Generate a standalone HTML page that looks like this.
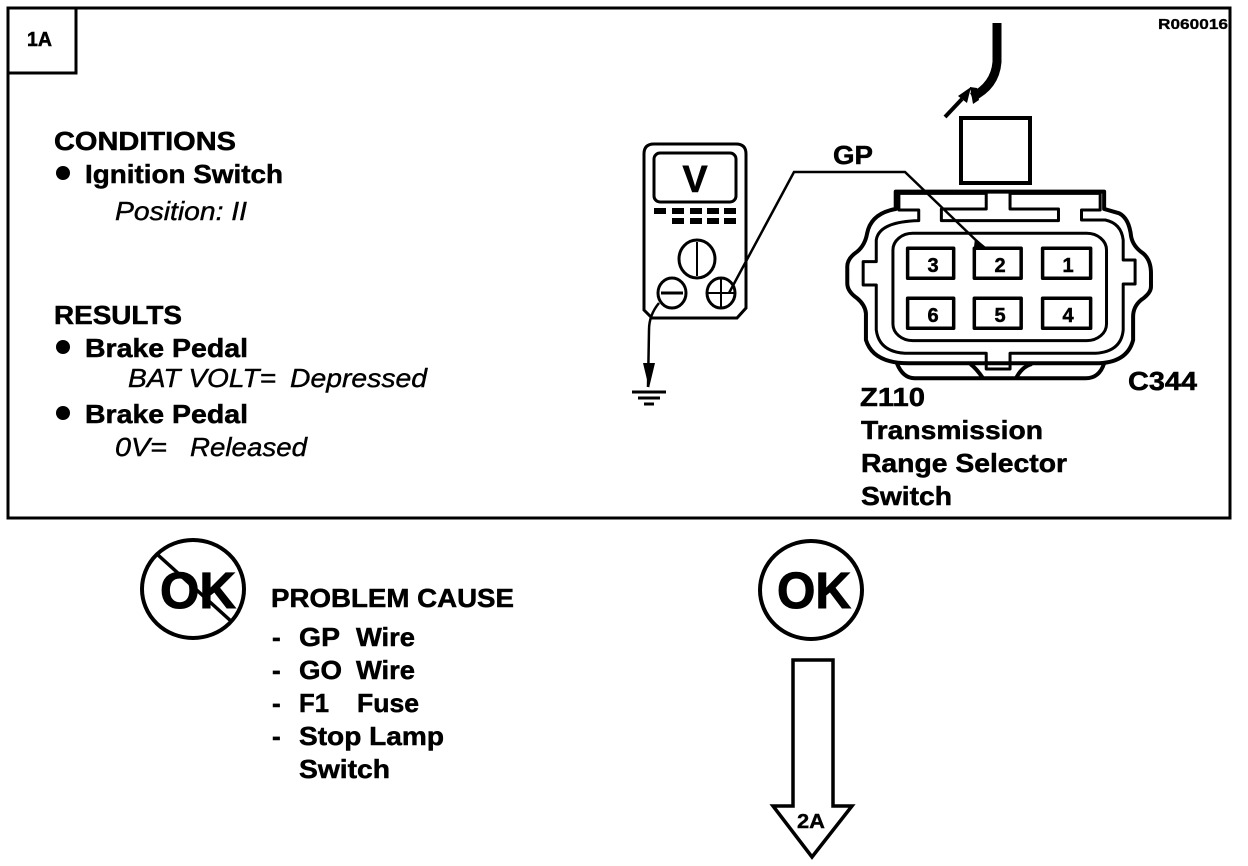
<!DOCTYPE html>
<html><head><meta charset="utf-8"><style>
html,body{margin:0;padding:0;background:#fff}
svg{display:block}
text{font-family:"Liberation Sans",sans-serif;font-weight:bold;font-size:26px;fill:#000;stroke:#000;stroke-width:.5px}
.i{font-style:italic;font-weight:normal;stroke-width:.4px}
.c{text-anchor:middle}
.p{font-size:20px}
</style></head><body>
<svg width="1248" height="866" viewBox="0 0 1248 866" xmlns="http://www.w3.org/2000/svg">
<rect x="8" y="8" width="1222" height="510" fill="none" stroke="#000" stroke-width="3"/>
<path d="M8 73H76V8" fill="none" stroke="#000" stroke-width="3"/>
<text x="27" y="46" style="font-size:20px" textLength="25" lengthAdjust="spacingAndGlyphs">1A</text>
<text x="1158" y="29" style="font-size:15px;stroke-width:.3px" textLength="70" lengthAdjust="spacingAndGlyphs">R060016</text>

<text x="54" y="150" textLength="182" lengthAdjust="spacingAndGlyphs">CONDITIONS</text>
<circle cx="63" cy="173" r="7"/>
<text x="85" y="183" textLength="198" lengthAdjust="spacingAndGlyphs">Ignition Switch</text>
<text class="i" x="115" y="220" textLength="132" lengthAdjust="spacingAndGlyphs">Position: II</text>
<text x="54" y="324" textLength="128" lengthAdjust="spacingAndGlyphs">RESULTS</text>
<circle cx="63" cy="347" r="7"/>
<text x="85" y="357" textLength="163" lengthAdjust="spacingAndGlyphs">Brake Pedal</text>
<text class="i" x="128" y="387" textLength="148" lengthAdjust="spacingAndGlyphs">BAT VOLT=</text>
<text class="i" x="290" y="387" textLength="137" lengthAdjust="spacingAndGlyphs">Depressed</text>
<circle cx="63" cy="413" r="7"/>
<text x="85" y="423" textLength="163" lengthAdjust="spacingAndGlyphs">Brake Pedal</text>
<text class="i" x="115" y="456" textLength="52" lengthAdjust="spacingAndGlyphs">0V=</text>
<text class="i" x="190" y="456" textLength="117" lengthAdjust="spacingAndGlyphs">Released</text>

<!-- meter -->
<g fill="none" stroke="#000">
<path d="M654 144H736Q746 144 746 154V308L737 318H652L644 310V154Q644 144 654 144Z" stroke-width="3"/>
<rect x="654" y="153" width="82" height="49" rx="6" stroke-width="3"/>
<ellipse cx="697" cy="259" rx="18" ry="19" stroke-width="3"/>
<path d="M697 242V276" stroke-width="2"/>
<ellipse cx="672" cy="293" rx="14" ry="15" stroke-width="3"/>
<path d="M661 293H683" stroke-width="3"/>
<ellipse cx="721" cy="293" rx="14" ry="15" stroke-width="3"/>
<path d="M707 293H735M721 279V307" stroke-width="2"/>
<path d="M729 293L794 172H905L983 247" stroke-width="2.5"/>
<path d="M659 303Q649 315 649 330L648 387" stroke-width="2.5"/>
<path d="M632 392H666M638 398H660M644 404H654" stroke-width="3"/>
<path d="M997 23V62Q995 86 972 97" stroke-width="9"/>
<path d="M945 117L962 99" stroke-width="4"/>
<rect x="961" y="118" width="69" height="65" stroke-width="4"/>
</g>
<path d="M643 363H655L649 388Z M958 96L971 87 967 103Z M970 87L977 88 979 100 973 104Z"/>
<path d="M975 238L987 248 974 247Z"/>
<g fill="#000">
<rect x="654" y="208" width="12" height="6"/><rect x="672" y="208" width="12" height="6"/><rect x="690" y="208" width="12" height="6"/><rect x="707" y="208" width="12" height="6"/><rect x="724" y="208" width="12" height="6"/>
<rect x="672" y="218" width="12" height="6"/><rect x="690" y="218" width="12" height="6"/><rect x="707" y="218" width="12" height="6"/><rect x="724" y="218" width="12" height="6"/>
</g>
<text class="c" x="695" y="192" style="font-size:38px">V</text>
<text x="833" y="164" textLength="40" lengthAdjust="spacingAndGlyphs">GP</text>

<!-- connector -->
<g transform="translate(619,10) scale(.397,.3333)" fill="none" stroke="#000" stroke-linejoin="round">
<path vector-effect="non-scaling-stroke" stroke-width="4" d="M697 597V545H1222V597L1260 610Q1285 625 1290 680Q1295 710 1320 730Q1340 750 1340 790V830Q1340 850 1315 870Q1295 890 1295 920V990Q1280 1060 1200 1060H730Q640 1060 622 990V910Q620 885 600 865Q575 845 575 820V770Q575 745 600 725Q620 705 625 670Q635 610 697 597Z"/>
<path vector-effect="non-scaling-stroke" stroke-width="3" d="M755 600H705V550H925V597H812V632H1107V597H985V550H1212V600H1165V630H1225Q1265 640 1270 690V750H1300V822H1270V960Q1265 1025 1200 1030H985V1077H925V1030H720Q655 1025 648 960V825H615V755H648V690Q655 635 755 632Z"/>
<rect vector-effect="non-scaling-stroke" stroke-width="3" x="690" y="670" width="538" height="322" rx="50" ry="50"/>
<path vector-effect="non-scaling-stroke" stroke-width="4" d="M700 1060Q715 1105 745 1105H1175Q1210 1105 1222 1060M885 1062Q900 1075 917 1105M1040 1062Q1015 1070 1000 1105"/>
<g stroke-width="3.5">
<rect vector-effect="non-scaling-stroke" x="727" y="715" width="116" height="90"/>
<rect vector-effect="non-scaling-stroke" x="895" y="715" width="118" height="90"/>
<rect vector-effect="non-scaling-stroke" x="1067" y="715" width="121" height="90"/>
<rect vector-effect="non-scaling-stroke" x="727" y="865" width="116" height="90"/>
<rect vector-effect="non-scaling-stroke" x="895" y="865" width="118" height="90"/>
<rect vector-effect="non-scaling-stroke" x="1067" y="865" width="121" height="90"/>
</g>
</g>
<g>
<text class="c p" x="933" y="272">3</text><text class="c p" x="1000" y="272">2</text><text class="c p" x="1068" y="272">1</text>
<text class="c p" x="933" y="322">6</text><text class="c p" x="1000" y="322">5</text><text class="c p" x="1068" y="322">4</text>
</g>
<text x="1128" y="390" textLength="69" lengthAdjust="spacingAndGlyphs">C344</text>
<text x="860" y="406" textLength="65" lengthAdjust="spacingAndGlyphs">Z110</text>
<text x="861" y="439" textLength="182" lengthAdjust="spacingAndGlyphs">Transmission</text>
<text x="861" y="472" textLength="206" lengthAdjust="spacingAndGlyphs">Range Selector</text>
<text x="861" y="505" textLength="91" lengthAdjust="spacingAndGlyphs">Switch</text>

<!-- not ok -->
<ellipse cx="193" cy="589" rx="51" ry="49" fill="none" stroke="#000" stroke-width="4"/>
<text x="160" y="608" style="font-size:51px;stroke-width:1px" textLength="76" lengthAdjust="spacingAndGlyphs">OK</text>
<path d="M158 555L232 622" stroke="#000" stroke-width="3.5"/>
<text x="271" y="607" textLength="243" lengthAdjust="spacingAndGlyphs">PROBLEM CAUSE</text>
<text x="272" y="646">-</text><text x="299" y="646" textLength="41" lengthAdjust="spacingAndGlyphs">GP</text><text x="356" y="646" textLength="59" lengthAdjust="spacingAndGlyphs">Wire</text>
<text x="272" y="679">-</text><text x="299" y="679" textLength="43" lengthAdjust="spacingAndGlyphs">GO</text><text x="356" y="679" textLength="59" lengthAdjust="spacingAndGlyphs">Wire</text>
<text x="272" y="712">-</text><text x="299" y="712" textLength="30" lengthAdjust="spacingAndGlyphs">F1</text><text x="357" y="712" textLength="62" lengthAdjust="spacingAndGlyphs">Fuse</text>
<text x="272" y="745">-</text><text x="299" y="745" textLength="145" lengthAdjust="spacingAndGlyphs">Stop Lamp</text>
<text x="299" y="778" textLength="91" lengthAdjust="spacingAndGlyphs">Switch</text>

<!-- ok -->
<ellipse cx="811" cy="590" rx="51" ry="49" fill="none" stroke="#000" stroke-width="4"/>
<text x="777" y="608" style="font-size:51px;stroke-width:1px" textLength="74" lengthAdjust="spacingAndGlyphs">OK</text>
<path d="M793 660H833V806H852L812 857L773 806H793Z" fill="none" stroke="#000" stroke-width="3.5" stroke-linejoin="miter"/>
<text x="797" y="828" style="font-size:20px;stroke-width:.4px" textLength="28" lengthAdjust="spacingAndGlyphs">2A</text>
</svg>
</body></html>
